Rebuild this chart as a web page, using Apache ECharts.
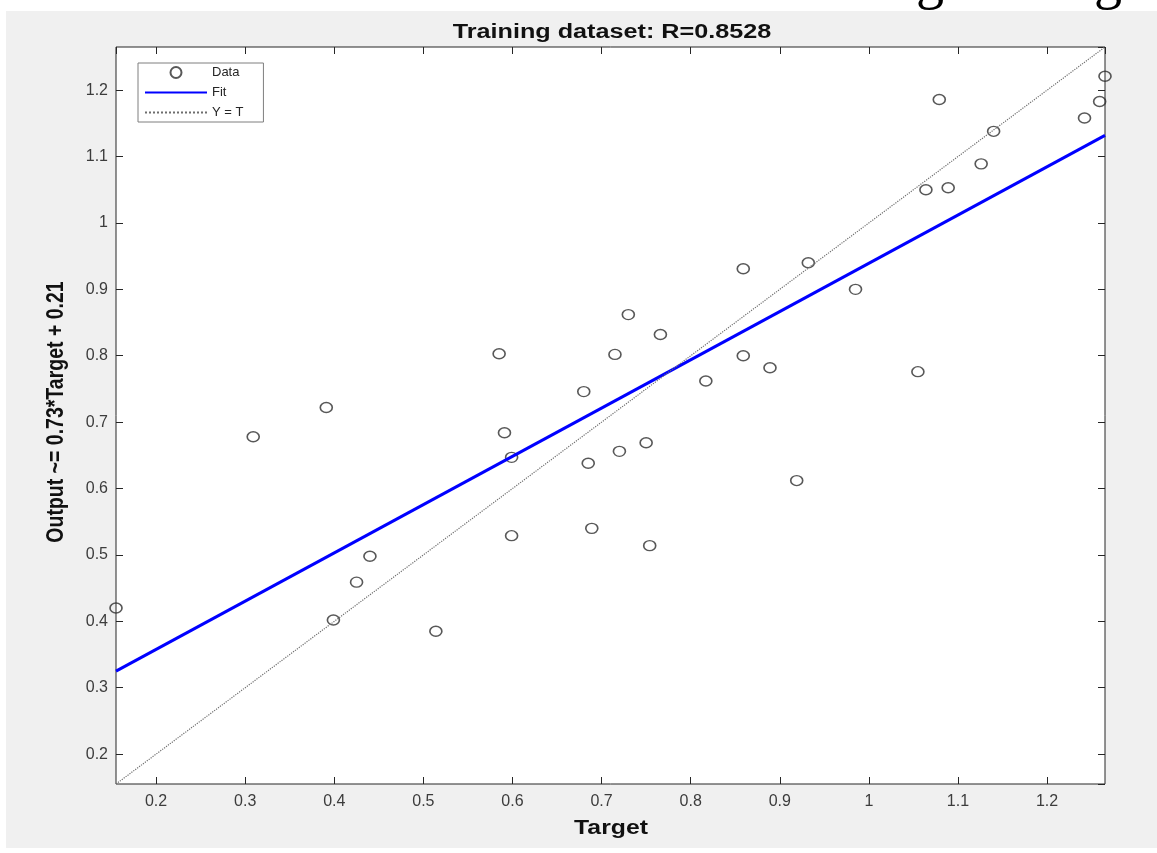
<!DOCTYPE html>
<html>
<head>
<meta charset="utf-8">
<script src="https://cdn.jsdelivr.net/npm/echarts@6/dist/echarts.min.js"></script>
<style>
  html, body { margin: 0; padding: 0; background: #fff; }
  #main { width: 1157px; height: 853px; }
</style>
</head>
<body>
<div id="main"></div>
<script>
// 训练集回归图 (Target vs Output)
var targetVals = [0.155, 0.309, 0.391, 0.399, 0.425, 0.440, 0.514, 0.585, 0.591, 0.599, 0.599, 0.680,
                  0.685, 0.689, 0.715, 0.720, 0.730, 0.750, 0.754, 0.766, 0.817, 0.859, 0.859, 0.889,
                  0.919, 0.932, 0.985, 1.055, 1.064, 1.079, 1.089, 1.126, 1.140, 1.242, 1.259, 1.265];
var outputVals = [0.420, 0.678, 0.722, 0.402, 0.459, 0.498, 0.385, 0.803, 0.684, 0.647, 0.529, 0.746,
                  0.638, 0.540, 0.802, 0.656, 0.862, 0.669, 0.514, 0.832, 0.762, 0.931, 0.800, 0.782,
                  0.612, 0.940, 0.900, 0.776, 1.050, 1.186, 1.053, 1.089, 1.138, 1.158, 1.183, 1.221];
// 拟合线和 Y = T 线的两个端点
var fitX = [0.155, 1.265];
var fitY = [0.325, 1.132];
var identX = [0.155, 1.265];
var identY = [0.155, 1.265];
var axisMin = 0.155, axisMax = 1.265;

var font = "'Liberation Sans', Arial, sans-serif";
var scatterData = targetVals.map(function (t, i) { return [t, outputVals[i]]; });
var fitData = fitX.map(function (x, i) { return [x, fitY[i]]; });
var identData = identX.map(function (x, i) { return [x, identY[i]]; });

var myChart = echarts.init(document.getElementById('main'));

function valueAxis(pos, showLabel) {
    return {
        type: 'value',
        position: pos,
        min: axisMin,
        max: axisMax,
        splitNumber: 11,
        axisLine: { show: false },
        splitLine: { show: false },
        axisTick: { show: true, inside: true, length: 7, lineStyle: { color: '#262626', width: 1 } },
        axisLabel: {
            show: showLabel,
            showMinLabel: false,
            showMaxLabel: false,
            color: '#3c3c3c',
            fontSize: 16,
            fontFamily: font,
            margin: pos === 'bottom' ? 10 : 8
        }
    };
}

// 图例里的线不要圆点
var noDot = { color: 'rgba(0,0,0,0)', borderWidth: 0, opacity: 0 };

var option = {
    animation: false,
    grid: {
        left: 116, right: 52, top: 47, bottom: 69,
        show: true,
        backgroundColor: '#fff',
        borderColor: '#262626',
        borderWidth: 1
    },
    graphic: [
        {
            type: 'rect', z: -100, silent: true,
            shape: { x: 6, y: 11, width: 1151, height: 837 },
            style: { fill: '#f0f0f0' }
        },
        {
            // 上方正文被截掉的文字
            type: 'text', silent: true,
            style: {
                text: 'Training Testing', x: 1122, y: 11,
                textAlign: 'right', textVerticalAlign: 'bottom',
                font: "56px 'Liberation Serif', serif", fill: '#000'
            }
        },
        {
            type: 'text', silent: true, x: 612, y: 32, scaleX: 1.26,
            style: {
                text: 'Training dataset: R=0.8528',
                textAlign: 'center', textVerticalAlign: 'middle',
                font: "bold 20px 'Liberation Sans', Arial, sans-serif", fill: '#111'
            }
        },
        {
            type: 'text', silent: true, x: 611, y: 828, scaleX: 1.18,
            style: {
                text: 'Target',
                textAlign: 'center', textVerticalAlign: 'middle',
                font: "bold 21px 'Liberation Sans', Arial, sans-serif", fill: '#111'
            }
        },
        {
            type: 'text', silent: true, x: 57, y: 412, rotation: Math.PI / 2, scaleY: 1.2,
            style: {
                text: 'Output ~= 0.73*Target + 0.21',
                textAlign: 'center', textVerticalAlign: 'middle',
                font: "bold 19.5px 'Liberation Sans', Arial, sans-serif", fill: '#111'
            }
        }
    ],
    legend: {
        orient: 'vertical',
        left: 138,
        top: 63,
        data: [
            { name: 'Data' },
            { name: 'Fit', itemStyle: noDot },
            { name: 'Y = T', itemStyle: noDot }
        ],
        backgroundColor: '#fff',
        borderColor: '#7f7f7f',
        borderWidth: 1,
        padding: [3, 20, 3, 6],
        itemWidth: 62,
        itemHeight: 11,
        itemGap: 7,
        textStyle: { fontSize: 13, color: '#262626', fontFamily: font }
    },
    xAxis: [valueAxis('bottom', true), valueAxis('top', false)],
    yAxis: [valueAxis('left', true), valueAxis('right', false)],
    series: [
        {
            name: 'Data',
            type: 'scatter',
            data: scatterData,
            symbol: 'circle',
            symbolSize: [12, 10],
            itemStyle: { color: 'rgba(0,0,0,0)', borderColor: '#2e2e2e', borderWidth: 1.5 }
        },
        {
            name: 'Fit',
            type: 'line',
            data: fitData,
            symbol: 'none',
            lineStyle: { color: '#0000ff', width: 3 },
            itemStyle: { color: '#0000ff' }
        },
        {
            name: 'Y = T',
            type: 'line',
            data: identData,
            symbol: 'none',
            lineStyle: { color: '#6e6e6e', width: 1.2, type: 'dotted' },
            itemStyle: { color: '#6e6e6e' }
        }
    ]
};

myChart.setOption(option);
</script>
</body>
</html>
